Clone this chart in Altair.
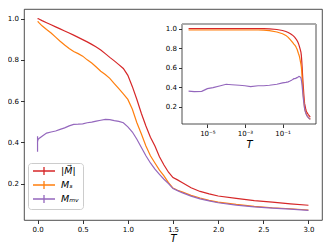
import altair as alt
import pandas as pd

# ---- data ----
T = [1e-6, 2e-6, 5e-6, 1e-5, 2e-5, 5e-5, 1e-4, 2e-4, 5e-4, 1e-3, 2e-3, 5e-3, 1e-2, 2e-2, 5e-2,
     0.1, 0.15, 0.2, 0.25, 0.3, 0.35, 0.4, 0.45, 0.5, 0.55, 0.6, 0.65, 0.7, 0.75, 0.8, 0.85,
     0.9, 0.95, 1.0, 1.05, 1.1, 1.15, 1.2, 1.25, 1.3, 1.35, 1.4, 1.45, 1.5, 1.55, 1.6,
     1.7, 1.8, 1.9, 2.0, 2.2, 2.4, 2.6, 2.8, 3.0]

M_abs = [1.0, 1.0, 1.0, 1.0, 1.0, 1.0, 1.0, 1.0, 1.0, 1.0, 1.0, 1.0, 0.999, 0.997, 0.99,
         0.98, 0.97, 0.96, 0.95, 0.94, 0.93, 0.92, 0.909, 0.898, 0.887, 0.875, 0.862, 0.848, 0.83, 0.812, 0.795,
         0.777, 0.758, 0.725, 0.67, 0.608, 0.54, 0.479, 0.425, 0.382, 0.33, 0.29, 0.255, 0.229, 0.218, 0.205,
         0.18, 0.162, 0.15, 0.14, 0.128, 0.117, 0.11, 0.102, 0.095]

M_s = [0.985, 0.985, 0.985, 0.985, 0.985, 0.985, 0.985, 0.985, 0.985, 0.985, 0.985, 0.985, 0.983, 0.978, 0.965,
       0.947, 0.93, 0.91, 0.89, 0.872, 0.855, 0.84, 0.83, 0.818, 0.8, 0.785, 0.765, 0.745, 0.729, 0.71, 0.685,
       0.66, 0.635, 0.608, 0.56, 0.495, 0.44, 0.382, 0.335, 0.30, 0.265, 0.237, 0.205, 0.178, 0.168, 0.16,
       0.143, 0.13, 0.119, 0.11, 0.099, 0.09, 0.083, 0.078, 0.072]

M_mv = [0.36, 0.355, 0.357, 0.385, 0.395, 0.415, 0.43, 0.425, 0.42, 0.415, 0.405, 0.415, 0.415, 0.42, 0.43,
        0.445, 0.45, 0.455, 0.463, 0.47, 0.48, 0.487, 0.488, 0.49, 0.495, 0.498, 0.503, 0.507, 0.511, 0.51, 0.505,
        0.502, 0.495, 0.475, 0.45, 0.415, 0.375, 0.335, 0.30, 0.27, 0.245, 0.221, 0.20, 0.176, 0.166, 0.156,
        0.139, 0.126, 0.116, 0.107, 0.096, 0.087, 0.081, 0.076, 0.07]

series_names = ["|M\u20d7|", "M\u209b", "M\u2098\u1d65"]
colors = ["#d62728", "#ff7f0e", "#9467bd"]

main_x_ticks = [0.0, 0.5, 1.0, 1.5, 2.0, 2.5, 3.0]
main_y_ticks = [0.2, 0.4, 0.6, 0.8, 1.0]
inset_x_ticks = [1e-5, 1e-3, 1e-1]
inset_x_labels = ["10\u207b\u2075", "10\u207b\u00b3", "10\u207b\u00b9"]

rows = []
for name, vals in zip(series_names, [M_abs, M_s, M_mv]):
    for t, v in zip(T, vals):
        rows.append({"T": t, "M": v, "series": name})
df = pd.DataFrame(rows)
frame_df = pd.DataFrame({"k": [0]})

# ---- layout ----
W, H = 298, 211
X_DOM = [-0.15, 3.15]
Y_DOM = [0.0235, 1.0465]
INSET_X_DOM = [10 ** -6.35, 10 ** 0.78]
INSET_X_RANGE = [158, 292]
INSET_Y_RANGE = [115, 15]

color = alt.Color(
    "series:N",
    scale=alt.Scale(domain=series_names, range=colors),
    legend=alt.Legend(
        title=None, orient="none", legendX=4, legendY=154, direction="vertical",
        fillColor="white", strokeColor="#cccccc", cornerRadius=3, padding=3,
        symbolType="M-2.75,0H2.75M0,-1V1", symbolSize=64, symbolStrokeWidth=1.3,
        symbolOffset=8, labelOffset=12, labelFontSize=9.5, labelFont="DejaVu Sans",
        labelFontStyle="italic", labelColor="#000", rowPadding=0, labelLimit=60,
    ),
)

main = alt.Chart(df).mark_line(strokeWidth=1.2).encode(
    x=alt.X("T:Q", scale=alt.Scale(domain=X_DOM, nice=False, zero=False),
            axis=alt.Axis(values=main_x_ticks, format=".1f", title="T", grid=False,
                          domain=False, titlePadding=1)),
    y=alt.Y("M:Q", scale=alt.Scale(domain=Y_DOM, nice=False, zero=False),
            axis=alt.Axis(values=main_y_ticks, format=".1f", title=None, grid=False, domain=False)),
    color=color,
)

ix = alt.Scale(type="log", domain=INSET_X_DOM, range=INSET_X_RANGE, nice=False)
iy = alt.Scale(domain=Y_DOM, range=INSET_Y_RANGE, nice=False, zero=False)
label_expr = ("datum.value < 1e-4 ? '" + inset_x_labels[0] + "' : datum.value < 1e-2 ? '"
              + inset_x_labels[1] + "' : '" + inset_x_labels[2] + "'")
ix_axis = alt.Axis(values=inset_x_ticks, labelExpr=label_expr, title="T", orient="bottom",
                   offset=-(H - INSET_Y_RANGE[0]), grid=False, domain=False, titlePadding=3)
iy_axis = alt.Axis(values=main_y_ticks, format=".1f", title=None, orient="left",
                   offset=-INSET_X_RANGE[0], grid=False, domain=False)

frame = alt.Chart(frame_df).mark_rect(fill="white", stroke="#222", strokeWidth=0.8).encode(
    x=alt.X(datum=INSET_X_DOM[0], type="quantitative", scale=ix, axis=ix_axis),
    x2=alt.X2(datum=INSET_X_DOM[1]),
    y=alt.Y(datum=Y_DOM[0], type="quantitative", scale=iy, axis=iy_axis),
    y2=alt.Y2(datum=Y_DOM[1]),
)
top_rule = alt.Chart(frame_df).mark_rule(color="#aaaaaa", strokeWidth=2).encode(
    x=alt.X(datum=INSET_X_DOM[0], type="quantitative", scale=ix, axis=ix_axis),
    x2=alt.X2(datum=INSET_X_DOM[1]),
    y=alt.Y(datum=Y_DOM[1], type="quantitative", scale=iy, axis=iy_axis),
)
inset_lines = alt.Chart(df).mark_line(strokeWidth=1.2).encode(
    x=alt.X("T:Q", scale=ix, axis=ix_axis),
    y=alt.Y("M:Q", scale=iy, axis=iy_axis),
    color=color,
)
inset = alt.layer(frame, top_rule, inset_lines)

chart = alt.layer(main, inset).resolve_scale(x="independent", y="independent").properties(
    width=W, height=H,
    autosize=alt.AutoSizeParams(type="none"),
    padding={"left": 16, "top": 1, "right": 2, "bottom": 30},
).configure_view(stroke="#222", strokeWidth=0.8).configure_axis(
    labelFontSize=7, labelFont="DejaVu Sans", labelColor="#000", tickColor="#000",
    tickSize=3.5, tickWidth=0.8, labelPadding=2,
    titleFont="DejaVu Sans", titleFontStyle="italic", titleFontWeight="normal",
    titleFontSize=10, titleColor="#000",
)

chart.save("out.html", embed_options={"renderer": "svg", "actions": False})
